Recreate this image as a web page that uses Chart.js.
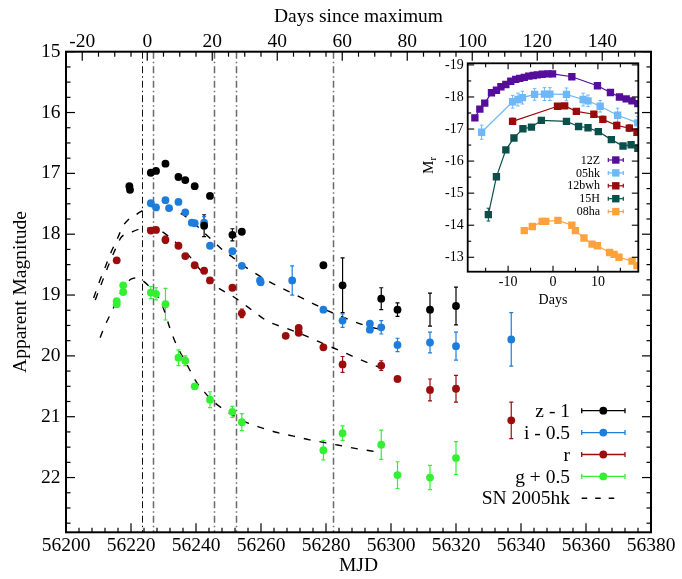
<!DOCTYPE html>
<html>
<head>
<meta charset="utf-8">
<script src="https://cdn.jsdelivr.net/npm/chart.js@4/dist/chart.umd.min.js"></script>
<style>
  html, body { margin: 0; padding: 0; background: #fff; }
  #wrap { position: relative; width: 682px; height: 579px; overflow: hidden; }
  #main { position: absolute; left: 0; top: 0; width: 682px; height: 579px; }
  #inset { position: absolute; left: 400px; top: 40px; width: 245px; height: 275px; }
</style>
</head>
<body>
<div id="wrap">
  <canvas id="main" width="682" height="579"></canvas>
  <canvas id="inset" width="245" height="275"></canvas>
</div>
<script>
// ---------------- light curve photometry (offsets already applied) ----------------
const Z_MJD = [56219.5, 56219.7, 56226.1, 56227.7, 56230.6, 56234.6, 56236.7, 56239.6, 56242.5, 56244.3, 56251.2, 56254.1, 56279.2, 56285.1, 56297.0, 56302.0, 56312.0, 56320.0];
const Z_MAG = [17.21, 17.27, 16.99, 16.96, 16.84, 17.06, 17.11, 17.21, 17.86, 17.37, 18.01, 17.96, 18.51, 18.84, 19.06, 19.24, 19.24, 19.18];
const Z_ERR = [0, 0, 0, 0, 0, 0, 0, 0, 0.18, 0, 0.10, 0, 0, 0.45, 0.18, 0.11, 0.27, 0.31];

const I_MJD = [56226.1, 56227.7, 56230.6, 56231.7, 56234.6, 56236.7, 56238.7, 56239.6, 56242.5, 56244.3, 56251.2, 56254.1, 56259.7, 56259.9, 56269.6, 56279.2, 56285.1, 56293.5, 56293.5, 56297.0, 56302.0, 56312.0, 56320.0, 56337.0];
const I_MAG = [17.49, 17.56, 17.44, 17.57, 17.47, 17.64, 17.81, 17.82, 17.81, 18.19, 18.28, 18.52, 18.76, 18.79, 18.76, 19.24, 19.42, 19.47, 19.57, 19.53, 19.82, 19.78, 19.84, 19.73];
const I_ERR = [0, 0, 0, 0, 0, 0, 0, 0, 0.10, 0, 0, 0, 0, 0, 0.24, 0, 0.11, 0, 0, 0.11, 0.11, 0.17, 0.23, 0.44];

const R_MJD = [56215.6, 56226.1, 56227.7, 56230.6, 56234.6, 56236.7, 56239.6, 56242.5, 56244.3, 56251.2, 56254.1, 56267.6, 56271.6, 56271.6, 56279.2, 56285.1, 56297.0, 56302.0, 56312.0, 56320.0, 56337.0];
const R_MAG = [18.43, 17.94, 17.93, 18.09, 18.19, 18.36, 18.51, 18.60, 18.76, 18.88, 19.30, 19.67, 19.54, 19.62, 19.86, 20.14, 20.16, 20.38, 20.56, 20.54, 21.06];
const R_ERR = [0, 0, 0, 0.06, 0, 0, 0, 0.05, 0, 0, 0.07, 0, 0, 0, 0, 0.13, 0.08, 0, 0.18, 0.22, 0.30];

const G_MJD = [56215.6, 56215.6, 56217.6, 56217.6, 56226.1, 56227.7, 56230.6, 56234.6, 56236.7, 56239.6, 56244.3, 56251.2, 56254.1, 56279.2, 56285.1, 56297.0, 56302.0, 56312.0, 56320.0];
const G_MAG = [19.10, 19.15, 18.84, 18.95, 18.96, 18.98, 19.15, 20.03, 20.08, 20.50, 20.72, 20.92, 21.09, 21.55, 21.27, 21.46, 21.96, 22.00, 21.68];
const G_ERR = [0, 0, 0, 0, 0.10, 0.10, 0.26, 0.13, 0.08, 0, 0.13, 0.09, 0.14, 0.16, 0.12, 0.24, 0.22, 0.20, 0.27];

// SN 2005hk comparison light curves, shifted onto this object
const HK_I_MJD = [56208.5, 56210, 56212, 56214, 56216, 56217.5, 56219, 56221, 56223, 56226, 56229, 56232, 56236, 56240, 56244, 56248, 56251.5, 56255.5, 56260, 56265, 56270, 56276, 56281, 56286, 56292, 56297];
const HK_I_MAG = [19.05, 18.82, 18.55, 18.28, 18.05, 17.87, 17.77, 17.70, 17.63, 17.55, 17.52, 17.57, 17.68, 17.85, 18.05, 18.25, 18.39, 18.55, 18.70, 18.85, 18.98, 19.14, 19.27, 19.38, 19.50, 19.57];
const HK_R_MJD = [56209, 56211, 56213, 56215, 56217, 56220, 56223, 56226, 56229, 56233, 56237, 56242, 56246, 56251, 56254, 56258, 56262, 56268, 56275, 56280, 56285, 56290, 56296];
const HK_R_MAG = [19.08, 18.80, 18.52, 18.27, 18.05, 17.97, 17.91, 17.90, 17.94, 18.10, 18.30, 18.63, 18.85, 19.01, 19.12, 19.28, 19.43, 19.55, 19.70, 19.82, 19.93, 20.05, 20.18];
const HK_G_MJD = [56210.5, 56212, 56214, 56216, 56218, 56220, 56222, 56224, 56226, 56228, 56230, 56232, 56234, 56237, 56240, 56243, 56246, 56250, 56255, 56260, 56265, 56270, 56275, 56280, 56285, 56290, 56296];
const HK_G_MAG = [19.70, 19.50, 19.28, 19.05, 18.85, 18.74, 18.72, 18.78, 18.88, 19.00, 19.22, 19.55, 19.82, 20.12, 20.42, 20.62, 20.78, 20.93, 21.08, 21.18, 21.26, 21.32, 21.38, 21.43, 21.48, 21.53, 21.58];

// epochs marked with vertical lines (spectra)
const VLINE_MJD = [56223.3, 56226.7, 56245.4, 56252.3, 56282.2];

// axes
const DAY0_MJD = 56225;
const MJD_TICKS = [56200, 56220, 56240, 56260, 56280, 56300, 56320, 56340, 56360, 56380];
const DAY_TICKS = [-20, 0, 20, 40, 60, 80, 100, 120, 140];
const MAG_TICKS = [15, 16, 17, 18, 19, 20, 21, 22];
const LEGEND_LABELS = ['z - 1', 'i - 0.5', 'r', 'g + 0.5', 'SN 2005hk'];

// ---------------- comparison sample: absolute r magnitudes ----------------
const INSET_NAMES = ['12Z', '05hk', '12bwh', '15H', '08ha'];
const SN12Z_DAY = [-17.4, -16.3, -15.2, -13.7, -12.6, -11.6, -10.5, -9.4, -8.3, -7.4, -6.4, -5.4, -4.4, -3.5, -2.4, -1.1, -0.1, 4.2, 9.9, 12.8, 14.8, 16.3, 17.6, 18.9];
const SN12Z_MAG = [-17.35, -17.62, -17.81, -18.13, -18.21, -18.32, -18.39, -18.49, -18.55, -18.58, -18.61, -18.65, -18.67, -18.69, -18.71, -18.72, -18.72, -18.63, -18.35, -18.14, -18.00, -17.94, -17.88, -17.79];
const SN05HK_DAY = [-15.9, -9.0, -7.8, -6.8, -4.1, -1.9, -0.7, 3.0, 6.7, 7.8, 10.5, 14.4, 18.9];
const SN05HK_MAG = [-16.90, -17.85, -17.92, -17.98, -18.08, -18.09, -18.09, -18.08, -17.92, -17.88, -17.71, -17.43, -17.19];
const SN05HK_ERR = [0.22, 0.2, 0.2, 0.2, 0.18, 0.2, 0.2, 0.2, 0.2, 0.18, 0.18, 0.22, 0.2];
const SN12BWH_DAY = [-9.0, 1.0, 2.6, 5.2, 9.1, 11.1, 14.2, 17.0, 18.7];
const SN12BWH_MAG = [-17.24, -17.71, -17.72, -17.55, -17.46, -17.30, -17.11, -17.03, -16.90];
const SN12BWH_ERR = [0.1, 0.08, 0.08, 0.08, 0.08, 0.1, 0.1, 0.1, 0.1];
const SN15H_DAY = [-14.4, -12.6, -10.5, -8.7, -6.7, -4.8, -2.6, 3.0, 5.7, 7.8, 10.1, 13.0, 15.6, 17.4, 18.9];
const SN15H_MAG = [-14.33, -15.51, -16.35, -16.72, -17.01, -17.06, -17.27, -17.24, -17.08, -17.04, -16.92, -16.67, -16.47, -16.51, -16.40];
const SN15H_ERR = [0.2, 0.05, 0.05, 0.05, 0.05, 0.05, 0.05, 0.05, 0.05, 0.05, 0.05, 0.05, 0.05, 0.05, 0.05];
const SN08HA_DAY = [-6.4, -4.6, -2.4, -1.6, 1.1, 4.2, 5.0, 6.9, 8.7, 9.9, 12.6, 13.6, 14.7, 17.6, 18.7];
const SN08HA_MAG = [-13.83, -13.96, -14.12, -14.12, -14.15, -14.00, -13.83, -13.60, -13.41, -13.36, -13.15, -13.09, -13.00, -12.88, -12.74];
const SN08HA_ERR = [0.06, 0.06, 0.06, 0.06, 0.06, 0.06, 0.06, 0.06, 0.06, 0.06, 0.06, 0.06, 0.06, 0.06, 0.06];
const INSET_DAY_TICKS = [-10, 0, 10];
const INSET_MAG_TICKS = [-19, -18, -17, -16, -15, -14, -13];

// ---------------- styling ----------------
const SERIF = "'Liberation Serif', 'Times New Roman', 'DejaVu Serif', serif";
Chart.defaults.font.family = SERIF;
Chart.defaults.color = '#000';
const f = size => ({ family: SERIF, size: size, weight: 'normal' });

const BAND_COLORS = ['#000000', '#1e7ddc', '#9b0d0d', '#33f033'];
const INSET_COLORS = ['#560d9c', '#6fb7f7', '#990a0a', '#0b4f4a', '#ffa23c'];

const pts = (xs, ys) => xs.map((x, i) => ({ x: x, y: ys[i] }));

function bandSet(xs, ys, errs, color) {
  return {
    data: pts(xs, ys), errorBars: errs,
    backgroundColor: color, borderColor: color, borderWidth: 0,
    pointRadius: 3.9, pointHoverRadius: 3.9, showLine: false
  };
}
function templateSet(xs, ys) {
  return {
    data: pts(xs, ys), showLine: true, pointRadius: 0, pointHoverRadius: 0,
    borderColor: '#000', borderWidth: 1.4, borderDash: [7, 9],
    cubicInterpolationMode: 'monotone', backgroundColor: 'transparent'
  };
}

function line(ctx, x1, y1, x2, y2) {
  ctx.beginPath(); ctx.moveTo(x1, y1); ctx.lineTo(x2, y2); ctx.stroke();
}

// vertical error bars, drawn beneath the markers
const errorBars = {
  id: 'errorBars',
  beforeDatasetsDraw(chart, args, opts) {
    const { ctx, chartArea: a } = chart;
    const xs = chart.scales.x, ys = chart.scales.y;
    ctx.save();
    ctx.beginPath(); ctx.rect(a.left, a.top, a.right - a.left, a.bottom - a.top); ctx.clip();
    ctx.lineWidth = opts.width;
    chart.data.datasets.forEach(ds => {
      if (!ds.errorBars) return;
      ctx.strokeStyle = ds.backgroundColor;
      ds.data.forEach((p, i) => {
        const e = ds.errorBars[i];
        if (!e) return;
        const px = xs.getPixelForValue(p.x);
        const y1 = ys.getPixelForValue(p.y - e), y2 = ys.getPixelForValue(p.y + e);
        ctx.beginPath();
        ctx.moveTo(px, y1); ctx.lineTo(px, y2);
        ctx.moveTo(px - opts.cap, y1); ctx.lineTo(px + opts.cap, y1);
        ctx.moveTo(px - opts.cap, y2); ctx.lineTo(px + opts.cap, y2);
        ctx.stroke();
      });
    });
    ctx.restore();
  }
};

// dash-dot epoch markers
const epochLines = {
  id: 'epochLines',
  beforeDatasetsDraw(chart) {
    const { ctx, chartArea: a, scales: { x } } = chart;
    ctx.save();
    VLINE_MJD.forEach((m, i) => {
      const px = Math.round(x.getPixelForValue(m)) + 0.5;
      ctx.strokeStyle = i === 0 ? '#111' : '#6a6a6a';
      ctx.lineWidth = i === 0 ? 1 : 1.5;
      ctx.setLineDash([7, 3, 1.5, 3]);
      line(ctx, px, a.top, px, a.bottom);
    });
    ctx.restore();
  }
};

// frame with inward ticks for the main panel
const mainFrame = {
  id: 'mainFrame',
  afterDatasetsDraw(chart) {
    const { ctx, chartArea: a, scales: { x, x2, y } } = chart;
    ctx.save();
    ctx.strokeStyle = '#000';
    ctx.lineWidth = 1.2;
    for (let v = 56200; v <= 56380; v += 4) {
      const px = x.getPixelForValue(v);
      line(ctx, px, a.bottom, px, a.bottom - (v % 20 === 0 ? 9 : 4.5));
    }
    for (let d = -25; d <= 155; d += 5) {
      const px = x2.getPixelForValue(d);
      line(ctx, px, a.top, px, a.top + (d % 20 === 0 ? 9 : 5));
    }
    for (let k = 0; k <= 31; k++) {
      const m = 15 + k * 0.25;
      const py = y.getPixelForValue(m);
      const len = k % 4 === 0 ? 9 : 4.5;
      line(ctx, a.left, py, a.left + len, py);
      line(ctx, a.right, py, a.right - len, py);
    }
    ctx.lineWidth = 2;
    ctx.strokeRect(a.left, a.top, a.right - a.left, a.bottom - a.top);
    ctx.restore();
  }
};

// legend in the lower right of the main panel
const mainLegend = {
  id: 'mainLegend',
  afterDraw(chart) {
    const ctx = chart.ctx;
    const textRight = 570, x1 = 581.7, x2 = 625, xm = 603.3;
    ctx.save();
    ctx.font = '19.5px ' + SERIF;
    ctx.textAlign = 'right';
    ctx.textBaseline = 'middle';
    ctx.fillStyle = '#000';
    LEGEND_LABELS.forEach((label, i) => {
      const yy = 410.7 + 21.9 * i;
      ctx.fillText(label, textRight, yy + 1);
      if (i < 4) {
        const c = BAND_COLORS[i];
        ctx.strokeStyle = c; ctx.fillStyle = c; ctx.lineWidth = 1.3;
        line(ctx, x1, yy, x2, yy);
        line(ctx, x1, yy - 2.5, x1, yy + 2.5);
        line(ctx, x2, yy - 2.5, x2, yy + 2.5);
        ctx.beginPath(); ctx.arc(xm, yy, 3.9, 0, Math.PI * 2); ctx.fill();
        ctx.fillStyle = '#000';
      } else {
        ctx.strokeStyle = '#000'; ctx.lineWidth = 1.4;
        ctx.setLineDash([5.5, 8]);
        line(ctx, x1, yy, x2 - 6, yy);
        ctx.setLineDash([]);
      }
    });
    ctx.restore();
  }
};

const mainChart = new Chart(document.getElementById('main'), {
  type: 'scatter',
  data: {
    datasets: [
      bandSet(Z_MJD, Z_MAG, Z_ERR, BAND_COLORS[0]),
      bandSet(I_MJD, I_MAG, I_ERR, BAND_COLORS[1]),
      bandSet(R_MJD, R_MAG, R_ERR, BAND_COLORS[2]),
      bandSet(G_MJD, G_MAG, G_ERR, BAND_COLORS[3]),
      templateSet(HK_I_MJD, HK_I_MAG),
      templateSet(HK_R_MJD, HK_R_MAG),
      templateSet(HK_G_MJD, HK_G_MAG)
    ]
  },
  options: {
    responsive: false,
    animation: false,
    events: [],
    layout: { padding: 0 },
    plugins: {
      legend: { display: false },
      tooltip: { enabled: false },
      errorBars: { width: 1.2, cap: 2 }
    },
    scales: {
      x: {
        type: 'linear', position: 'bottom', min: 56200, max: 56380,
        afterBuildTicks: s => { s.ticks = MJD_TICKS.map(v => ({ value: v })); },
        afterFit: s => { s.height = 46.7; },
        grid: { display: false, drawTicks: false },
        border: { display: false },
        ticks: { font: f(19.5), padding: 2, maxRotation: 0, autoSkip: false, callback: v => String(v) },
        title: { display: true, text: 'MJD', font: f(19.5), padding: { top: 0, bottom: 1.5 } }
      },
      x2: {
        type: 'linear', position: 'top', min: 56200 - DAY0_MJD, max: 56380 - DAY0_MJD,
        afterBuildTicks: s => { s.ticks = DAY_TICKS.map(v => ({ value: v })); },
        afterFit: s => { s.height = 51.7; },
        grid: { display: false, drawTicks: false },
        border: { display: false },
        ticks: { font: f(19.5), padding: -2, maxRotation: 0, autoSkip: false, callback: v => String(v) },
        title: { display: true, text: 'Days since maximum', font: f(19.5), padding: { top: 5.3, bottom: 0 } }
      },
      y: {
        type: 'linear', position: 'left', reverse: true, min: 15, max: 22.9,
        afterBuildTicks: s => { s.ticks = MAG_TICKS.map(v => ({ value: v })); },
        afterFit: s => { s.width = 66; },
        grid: { display: false, drawTicks: false },
        border: { display: false },
        ticks: { font: f(19.5), padding: 5.5, autoSkip: false, callback: v => String(v) },
        title: { display: true, text: 'Apparent Magnitude', font: f(19.5), padding: { top: 9.3, bottom: 0 } }
      },
      y2: {
        type: 'linear', position: 'right', reverse: true, min: 15, max: 22.9,
        afterFit: s => { s.width = 31; },
        grid: { display: false, drawTicks: false },
        border: { display: false },
        ticks: { display: false }
      }
    }
  },
  plugins: [epochLines, errorBars, mainFrame, mainLegend]
});

// ---------------- inset panel ----------------
const insetFrame = {
  id: 'insetFrame',
  afterDatasetsDraw(chart) {
    const { ctx, chartArea: a, scales: { x, y } } = chart;
    ctx.save();
    ctx.strokeStyle = '#000';
    ctx.lineWidth = 1.1;
    for (let d = -15; d <= 15; d += 5) {
      const px = x.getPixelForValue(d);
      const len = d % 10 === 0 ? 6 : 4;
      line(ctx, px, a.bottom, px, a.bottom - len);
      line(ctx, px, a.top, px, a.top + len);
    }
    for (let k = 0; k <= 12; k++) {
      const m = -19 + k * 0.5;
      const py = y.getPixelForValue(m);
      const len = k % 2 === 0 ? 6.5 : 3.5;
      line(ctx, a.left, py, a.left + len, py);
      line(ctx, a.right, py, a.right - len, py);
    }
    ctx.lineWidth = 1.8;
    ctx.strokeRect(a.left, a.top, a.right - a.left, a.bottom - a.top);

    // M_r axis label
    ctx.save();
    ctx.translate(29, (a.top + a.bottom) / 2 - 2);
    ctx.rotate(-Math.PI / 2);
    ctx.fillStyle = '#000';
    ctx.textBaseline = 'middle';
    ctx.textAlign = 'left';
    ctx.font = '15px ' + SERIF;
    const wM = ctx.measureText('M').width;
    ctx.font = '10.5px ' + SERIF;
    const wr = ctx.measureText('r').width;
    const x0 = -(wM + wr) / 2;
    ctx.font = '15px ' + SERIF;
    ctx.fillText('M', x0, 0);
    ctx.font = '10.5px ' + SERIF;
    ctx.fillText('r', x0 + wM, 4);
    ctx.restore();

    // legend
    ctx.font = '12px ' + SERIF;
    ctx.textAlign = 'right';
    ctx.textBaseline = 'middle';
    INSET_NAMES.forEach((name, i) => {
      const yy = 120 + 12.9 * i;
      ctx.fillStyle = '#000';
      ctx.fillText(name, 200, yy + 0.5);
      const c = INSET_COLORS[i];
      ctx.strokeStyle = c; ctx.fillStyle = c; ctx.lineWidth = 1.2;
      line(ctx, 208.3, yy, 223.3, yy);
      line(ctx, 208.3, yy - 2, 208.3, yy + 2);
      line(ctx, 223.3, yy - 2, 223.3, yy + 2);
      ctx.fillRect(215.8 - 3.7, yy - 3.7, 7.4, 7.4);
    });
    ctx.restore();
  }
};

function insetSet(xs, ys, errs, color) {
  return {
    data: pts(xs, ys), errorBars: errs, showLine: true,
    borderColor: color, backgroundColor: color, borderWidth: 1.2,
    pointStyle: 'rect', pointRadius: 5.2, pointHoverRadius: 5.2, pointBorderWidth: 0,
    tension: 0
  };
}

const insetChart = new Chart(document.getElementById('inset'), {
  type: 'scatter',
  data: {
    datasets: [
      insetSet(SN12Z_DAY, SN12Z_MAG, null, INSET_COLORS[0]),
      insetSet(SN05HK_DAY, SN05HK_MAG, SN05HK_ERR, INSET_COLORS[1]),
      insetSet(SN12BWH_DAY, SN12BWH_MAG, SN12BWH_ERR, INSET_COLORS[2]),
      insetSet(SN15H_DAY, SN15H_MAG, SN15H_ERR, INSET_COLORS[3]),
      insetSet(SN08HA_DAY, SN08HA_MAG, SN08HA_ERR, INSET_COLORS[4])
    ]
  },
  options: {
    responsive: false,
    animation: false,
    events: [],
    layout: { padding: { top: 23.3, right: 6.7, left: 0, bottom: 0 } },
    plugins: {
      legend: { display: false },
      tooltip: { enabled: false },
      errorBars: { width: 1, cap: 1.8 }
    },
    scales: {
      x: {
        type: 'linear', position: 'bottom', min: -19, max: 19,
        afterBuildTicks: s => { s.ticks = INSET_DAY_TICKS.map(v => ({ value: v })); },
        afterFit: s => { s.height = 43.3; },
        grid: { display: false, drawTicks: false },
        border: { display: false },
        ticks: { font: f(14), padding: 2.5, maxRotation: 0, autoSkip: false, callback: v => String(v) },
        title: { display: true, text: 'Days', font: f(14), padding: { top: 0, bottom: 6.3 } }
      },
      y: {
        type: 'linear', position: 'left', reverse: true, min: -19.05, max: -12.55,
        afterBuildTicks: s => { s.ticks = INSET_MAG_TICKS.map(v => ({ value: v })); },
        afterFit: s => { s.width = 67.7; },
        grid: { display: false, drawTicks: false },
        border: { display: false },
        ticks: { font: f(14), padding: 4, autoSkip: false, callback: v => String(v) }
      }
    }
  },
  plugins: [errorBars, insetFrame]
});
</script>
</body>
</html>
